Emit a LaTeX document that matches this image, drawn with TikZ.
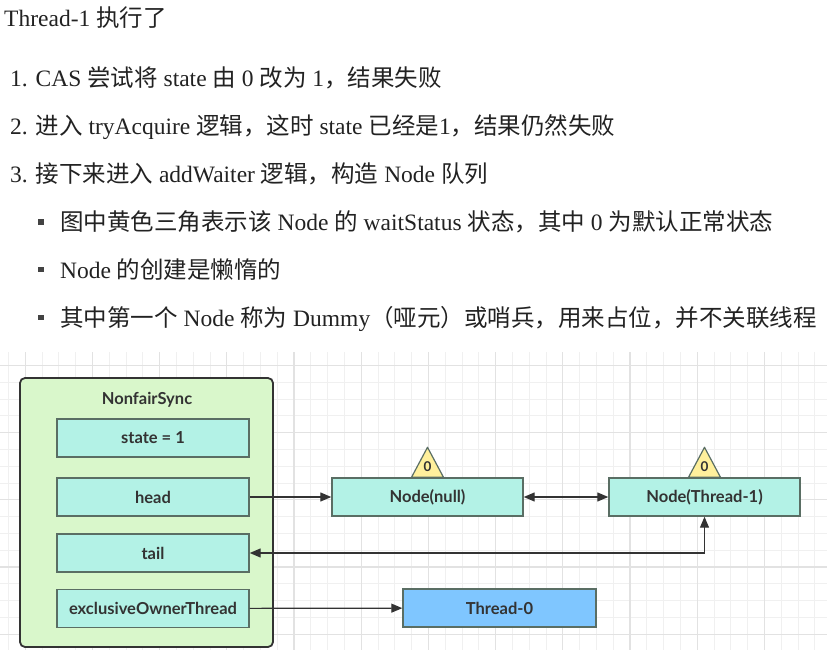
\documentclass[tikz,border=0pt]{standalone}
\usepackage{fontspec}
\setmainfont{Liberation Serif}
\newfontfamily\cjk{Noto Sans CJK SC}
\newfontfamily\diafont{Lato}
\usepackage{tikz}
\usetikzlibrary{arrows.meta,positioning,calc}
\usepackage{xcolor}

\definecolor{gridminor}{HTML}{F0F0F0}
\definecolor{gridmajor}{HTML}{E2E2E2}
\definecolor{syncfill}{HTML}{D9F7CB}
\definecolor{fieldfill}{HTML}{B3F2E6}
\definecolor{fielddraw}{HTML}{5A6E64}
\definecolor{threadfill}{HTML}{7FC6FF}
\definecolor{trifill}{HTML}{FFF09C}
\definecolor{inkgray}{HTML}{333333}
\definecolor{textgray}{HTML}{222222}

\newcommand{\zh}[1]{{\cjk #1}}

\begin{document}
\begin{tikzpicture}[x=1pt,y=-1pt,
        line/.style={anchor=base west,inner sep=0pt,text=textgray,font=\fontsize{23.5}{28}\selectfont},
        field/.style={draw=fielddraw,line width=1.4pt,fill=fieldfill,minimum width=192pt,minimum height=38pt,
          inner sep=0pt,text=inkgray,font=\diafont\bfseries\fontsize{16.5}{19}\selectfont},
        qnode/.style={field,minimum width=191pt},
        tri/.style={draw=fielddraw,line width=1.2pt,fill=trifill,line join=round},
        arr/.style={draw=inkgray,line width=1.2pt,-{Triangle[length=11pt,width=9pt]}},
        darr/.style={draw=inkgray,line width=1.2pt,{Triangle[length=11pt,width=9pt]}-{Triangle[length=11pt,width=9pt]}}
      ]
        \useasboundingbox (0,0) rectangle (827,650);
        \fill[white] (0,0) rectangle (827,650);
        % grid
        \begin{scope}
          \clip (0,352) rectangle (827,650);
          \foreach \x in {8.4,25.2,...,827} \draw[gridminor,line width=1pt] (\x,352) -- (\x,650);
          \foreach \y in {348.6,365.4,...,650} \draw[gridminor,line width=1pt] (0,\y) -- (827,\y);
          \foreach \x in {25.2,92.4,...,827} \draw[gridmajor,line width=1.2pt] (\x,352) -- (\x,650);
          \foreach \y in {365.4,432.6,...,650} \draw[gridmajor,line width=1.2pt] (0,\y) -- (827,\y);
        \end{scope}
        % text
        \node[line] (title) at (4,26.7) {Thread-1 \zh{执行了}};
        \node[line] (step1) at (10,86.5) {1. CAS \zh{尝试将} state \zh{由} 0 \zh{改为} 1\zh{，结果失败}};
        \node[line] (step2) at (10,134.5) {2. \zh{进入} tryAcquire \zh{逻辑，这时} state \zh{已经是}1\zh{，结果仍然失败}};
        \node[line] (step3) at (10,182.5) {3. \zh{接下来进入} addWaiter \zh{逻辑，构造} Node \zh{队列}};
        \node[line] (note1) at (60,230.5) {\zh{图中黄色三角表示该} Node \zh{的} waitStatus \zh{状态，其中} 0 \zh{为默认正常状态}};
        \node[line] (note2) at (60,278) {Node \zh{的创建是懒惰的}};
        \node[line] (note3) at (60,326) {\zh{其中第一个} Node \zh{称为} Dummy\zh{（哑元）或哨兵，用来占位，并不关联线程}};
        \foreach \y in {222,269.5,317.5} \fill[textgray!85] (38.3,\y-2.8) rectangle (43.9,\y+2.8);
        % NonfairSync
        \node[draw=inkgray,line width=1.8pt,fill=syncfill,rounded corners=5pt,minimum width=253pt,minimum height=269pt] (sync) at (146.5,512.5) {};
        \node[text=inkgray,font=\diafont\bfseries\fontsize{16.5}{19}\selectfont] (syncname) at (147,400) {NonfairSync};
        \node[field] (state) at (153,438) {state = 1};
        \node[field] (head) at (153,497) {head};
        \node[field] (tail) at (153,553) {tail};
        \node[field] (owner) at (153,608.5) {exclusiveOwnerThread};
        % queue
        \node[qnode] (dummy) at (427.5,497) {Node(null)};
        \node[qnode] (node1) at (704.5,497) {Node(Thread-1)};
        \node[field,fill=threadfill,minimum width=193pt] (thread0) at (499.5,608) {Thread-0};
        % waitStatus
        \foreach \n/\m in {dummy/wsa,node1/wsb}{
          \draw[tri] ([xshift=-16pt]\n.north) -- ([yshift=30pt]\n.north) -- ([xshift=16pt]\n.north) -- cycle;
          \node[text=inkgray,font=\diafont\bfseries\fontsize{13.5}{15}\selectfont] (\m) at ([yshift=11pt]\n.north) {0};
        }
        % links
        \draw[arr] (head) -- (dummy);
        \draw[darr] (dummy) -- (node1);
        \draw[darr] (tail.east) -| (node1.south);
        \draw[arr] (owner) -- (thread0);
      \end{tikzpicture}
\end{document}
